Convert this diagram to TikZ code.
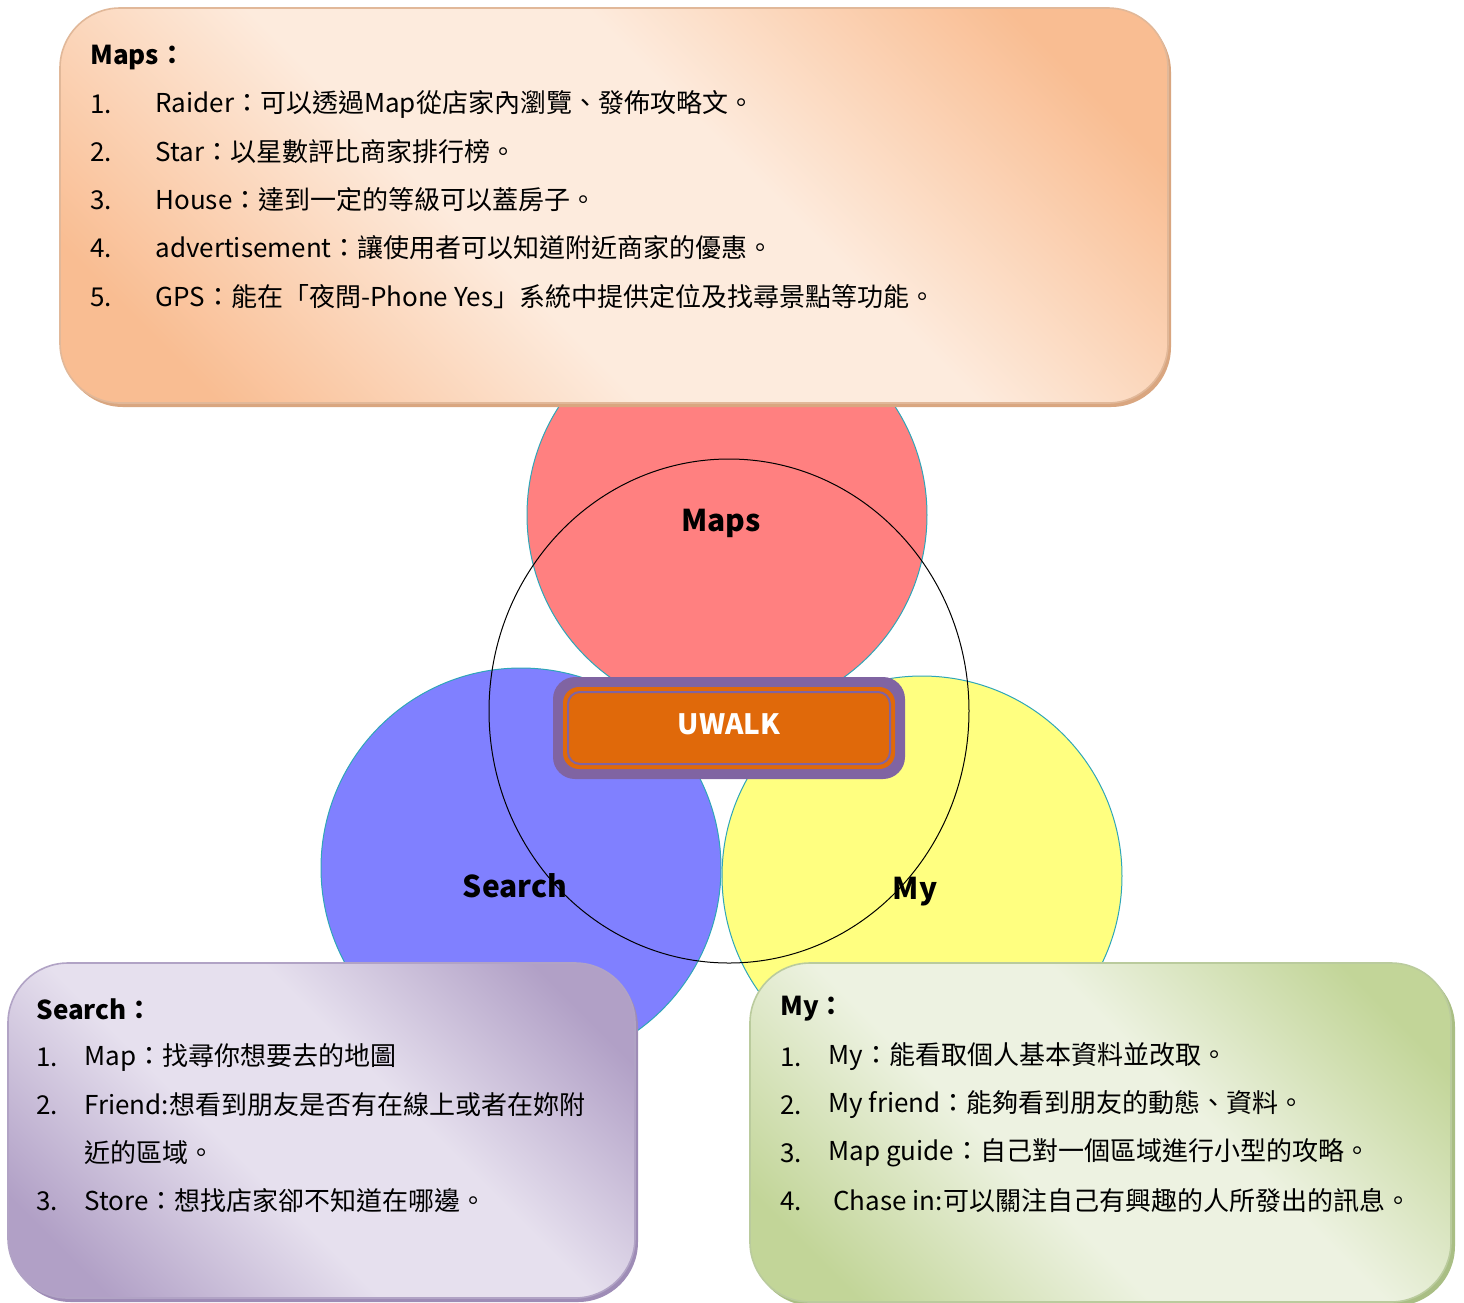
\documentclass[tikz,border=0pt]{standalone}
\usepackage{fontspec}
\setmainfont{Noto Sans CJK TC}
\definecolor{oD}{HTML}{F9BD92}
\definecolor{oL}{HTML}{FDEBDD}
\definecolor{oS}{HTML}{D9A680}
\definecolor{pD}{HTML}{B1A0C6}
\definecolor{pL}{HTML}{E6E0EE}
\definecolor{pS}{HTML}{9E8CB6}
\definecolor{gD}{HTML}{C2D598}
\definecolor{gL}{HTML}{EDF2E1}
\definecolor{gS}{HTML}{A9BE84}
\definecolor{redc}{HTML}{FF8080}
\definecolor{bluec}{HTML}{8080FF}
\definecolor{yelc}{HTML}{FFFF80}
\definecolor{tealc}{HTML}{2FA6B8}
\definecolor{purp}{HTML}{8064A2}
\definecolor{orng}{HTML}{E0690A}
\pgfdeclarehorizontalshading{oshade}{100bp}{color(0bp)=(oD); color(22bp)=(oD); color(42bp)=(oL); color(58bp)=(oL); color(78bp)=(oD); color(100bp)=(oD)}
\pgfdeclarehorizontalshading{pshade}{100bp}{color(0bp)=(pD); color(22bp)=(pD); color(42bp)=(pL); color(58bp)=(pL); color(78bp)=(pD); color(100bp)=(pD)}
\pgfdeclarehorizontalshading{gshade}{100bp}{color(0bp)=(gD); color(22bp)=(gD); color(42bp)=(gL); color(58bp)=(gL); color(78bp)=(gD); color(100bp)=(gD)}
\begin{document}
\begin{tikzpicture}[x=0.5pt,y=-0.5pt,
  txt/.style={anchor=west, inner sep=0pt, font=\fontsize{13pt}{15pt}\selectfont},
  hd/.style={anchor=west, inner sep=0pt, font=\fontsize{13pt}{15pt}\selectfont\bfseries},
  lbl/.style={inner sep=0pt, font=\fontsize{15pt}{17pt}\selectfont\bfseries},
  ven/.style={circle, draw=tealc, line width=0.5pt, minimum size=200pt, inner sep=0pt},
  infobox/.style={rounded corners=30pt, line width=0.8pt},
]
\useasboundingbox (0,0) rectangle (1464,1303);
% Venn circles
\node[ven, fill=redc] (cmaps) at (727,515) {};
\node[ven, fill=bluec] (csearch) at (521,868) {};
\node[ven, fill=yelc] (cmy) at (922,876) {};
\node[lbl] (lmaps) at (721,523) {Maps};
\node[lbl] (lsearch) at (515,886) {Search};
\node[lbl] (lmy) at (915,892) {My};
\draw[black, line width=0.5pt] (729,711) ellipse [x radius=120pt, y radius=126pt];
% UWALK
\node[fill=purp, rounded corners=11pt, minimum width=176pt, minimum height=51pt, inner sep=0pt] (uwo) at (729,728) {};
\node[fill=orng, rounded corners=8pt, minimum width=166pt, minimum height=41pt, inner sep=0pt] (uwm) at (729,728) {};
\node[draw=purp, line width=1pt, rounded corners=6pt, minimum width=161pt, minimum height=36pt, inner sep=0pt] (uwi) at (729,728) {};
\node[inner sep=0pt, text=white, font=\fontsize{14pt}{16pt}\selectfont\bfseries] (uw) at (729,724) {UWALK};
% Maps box
\fill[oS, rounded corners=30pt] (63,12) rectangle (1171,407);
\shade[infobox, shading=oshade, shading angle=45, draw=oS!80] (60,8) rectangle (1168,403);
\node[hd] (mh) at (90,57) {Maps：};
\node[txt] (mn1) at (90,104) {1.};
\node[txt] (mt1) at (155,104) {Raider：可以透過Map從店家內瀏覽、發佈攻略文。};
\node[txt] (mn2) at (90,152) {2.};
\node[txt] (mt2) at (155,152) {Star：以星數評比商家排行榜。};
\node[txt] (mn3) at (90,200) {3.};
\node[txt] (mt3) at (155,200) {House：達到一定的等級可以蓋房子。};
\node[txt] (mn4) at (90,248) {4.};
\node[txt] (mt4) at (155,248) {advertisement：讓使用者可以知道附近商家的優惠。};
\node[txt] (mn5) at (90,297) {5.};
\node[txt] (mt5) at (155,297) {GPS：能在「夜問-Phone Yes」系統中提供定位及找尋景點等功能。};
% Search box
\fill[pS, rounded corners=30pt] (11,967) rectangle (638,1302);
\shade[infobox, shading=pshade, shading angle=45, draw=pS!80] (8,963) rectangle (635,1298);
\node[hd] (sh) at (36,1009) {Search：};
\node[txt] (sn1) at (36,1057) {1.};
\node[txt] (st1) at (84,1057) {Map：找尋你想要去的地圖};
\node[txt] (sn2) at (36,1105) {2.};
\node[txt] (st2) at (84,1105) {Friend:想看到朋友是否有在線上或者在妳附};
\node[txt] (st2b) at (84,1153) {近的區域。};
\node[txt] (sn3) at (36,1201) {3.};
\node[txt] (st3) at (84,1201) {Store：想找店家卻不知道在哪邊。};
% My box
\fill[gS, rounded corners=30pt] (753,967) rectangle (1455,1306);
\shade[infobox, shading=gshade, shading angle=45, draw=gS!80] (750,963) rectangle (1451,1302);
\node[hd] (yh) at (780,1009) {My：};
\node[txt] (yn1) at (780,1057) {1.};
\node[txt] (yt1) at (828,1057) {My：能看取個人基本資料並改取。};
\node[txt] (yn2) at (780,1105) {2.};
\node[txt] (yt2) at (828,1105) {My friend：能夠看到朋友的動態、資料。};
\node[txt] (yn3) at (780,1153) {3.};
\node[txt] (yt3) at (828,1153) {Map guide：自己對一個區域進行小型的攻略。};
\node[txt] (yn4) at (780,1201) {4.};
\node[txt] (yt4) at (833,1201) {Chase in:可以關注自己有興趣的人所發出的訊息。};
\end{tikzpicture}
\end{document}
